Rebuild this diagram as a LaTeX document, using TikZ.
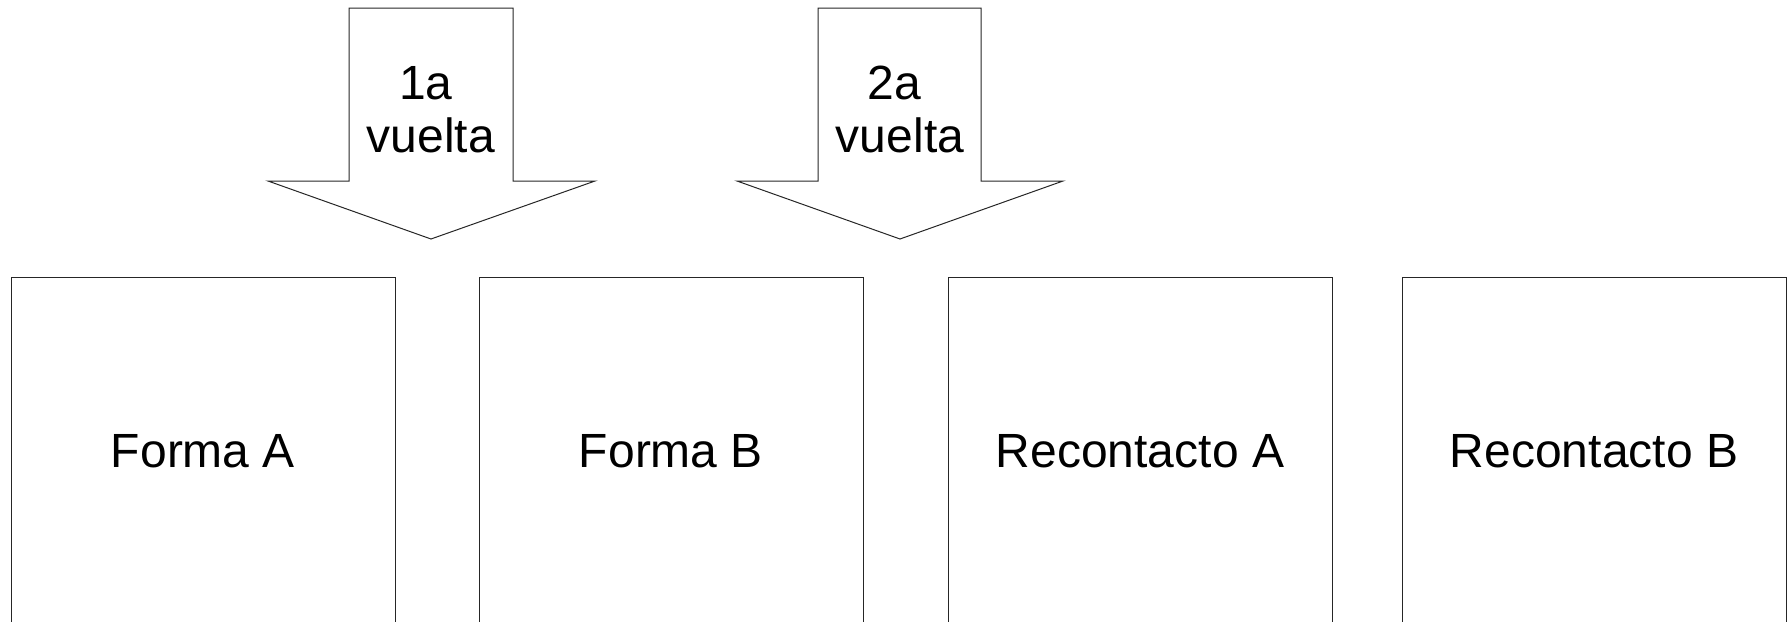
\documentclass[tikz,border=0pt]{standalone}
\usepackage{fontspec}
\setmainfont{Liberation Sans}
\begin{document}
\begin{tikzpicture}[x=1pt,y=-1pt,
  shapeline/.style={draw=black!85,line width=1pt},
  lbl/.style={font=\fontsize{48}{55}\selectfont,anchor=base,inner sep=0pt}]
\useasboundingbox (0,0) rectangle (1787,621);
\clip (0,0) rectangle (1787,621);
% boxes
\draw[shapeline] (11,277) rectangle (395,660);
\draw[shapeline] (479,277) rectangle (863,660);
\draw[shapeline] (948,277) rectangle (1332,660);
\draw[shapeline] (1402,277) rectangle (1786,660);
\node[lbl] (fa) at (203,467) {Forma A};
\node[lbl] (fb) at (671,467) {Forma B};
\node[lbl] (ra) at (1140,467) {Recontacto A};
\node[lbl] (rb) at (1594,467) {Recontacto B};
% arrows
\draw[shapeline,line join=miter] (349,8) -- (513,8) -- (513,181) -- (595,181) -- (431,239) -- (268,181) -- (349,181) -- cycle;
\draw[shapeline,line join=miter] (818,8) -- (981,8) -- (981,181) -- (1063,181) -- (900,239) -- (737,181) -- (818,181) -- cycle;
\node[lbl] (a1) at (426,99) {1a};
\node[lbl] (a1b) at (431,152) {vuelta};
\node[lbl] (a2) at (894,99) {2a};
\node[lbl] (a2b) at (900,152) {vuelta};
\end{tikzpicture}
\end{document}
